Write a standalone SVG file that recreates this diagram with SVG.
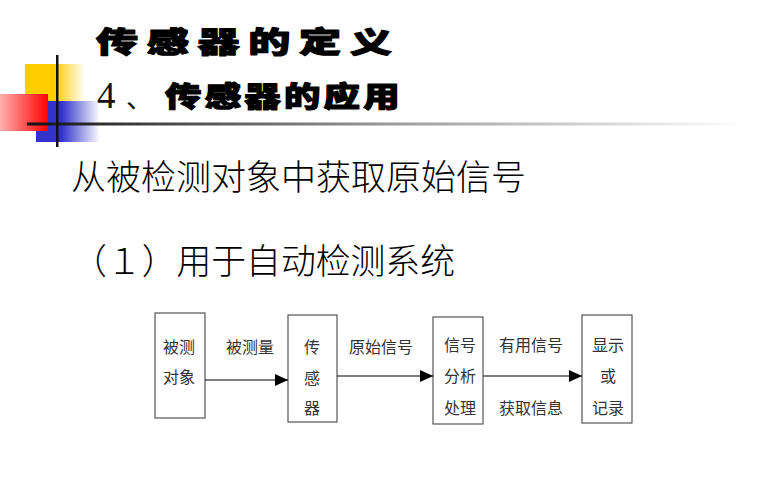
<svg xmlns="http://www.w3.org/2000/svg" width="771" height="486" viewBox="0 0 771 486">
<defs>
<linearGradient id="gY" x1="0" y1="0" x2="1" y2="0"><stop offset="0" stop-color="#FFCC00"/><stop offset="0.5" stop-color="#FFCC00"/><stop offset="1" stop-color="#FFFFFF"/></linearGradient>
<linearGradient id="gB" x1="0" y1="0" x2="1" y2="0"><stop offset="0" stop-color="#3333CC"/><stop offset="0.4" stop-color="#3333CC"/><stop offset="1" stop-color="#FFFFFF"/></linearGradient>
<linearGradient id="gR" x1="0" y1="0" x2="1" y2="0"><stop offset="0" stop-color="#FFB0B0"/><stop offset="1" stop-color="#FF0000"/></linearGradient>
<linearGradient id="gL" gradientUnits="userSpaceOnUse" x1="27" y1="0" x2="745" y2="0"><stop offset="0" stop-color="#111"/><stop offset="0.12" stop-color="#333"/><stop offset="0.5" stop-color="#999"/><stop offset="1" stop-color="#FFFFFF"/></linearGradient>
<marker id="ah" markerUnits="userSpaceOnUse" markerWidth="14" markerHeight="12" refX="13" refY="6" orient="auto"><path d="M0,0 L13,6 L0,12 Z" fill="#000"/></marker>
</defs>
<style>
.ttl{font-family:"Noto Sans CJK SC",sans-serif;font-weight:900;fill:#000;stroke:#000;stroke-width:1.2;stroke-linejoin:round}
.main{font-family:"Noto Sans CJK SC",sans-serif;font-size:35px;fill:#000;font-weight:300}
.lbl{font-family:"Noto Sans CJK SC",sans-serif;font-size:16px;fill:#333;text-anchor:middle}
.box{fill:#fff;stroke:#555;stroke-width:1.2}
.con{stroke:#000;stroke-width:1.2;fill:none;marker-end:url(#ah)}
</style>
<g id="decor">
<rect x="25" y="64" width="60" height="60" fill="url(#gY)"/>
<rect x="36" y="101" width="64" height="41" fill="url(#gB)"/>
<rect x="0" y="94" width="48" height="37" fill="url(#gR)"/>
<rect x="27" y="122.5" width="718" height="3" fill="url(#gL)"/>
<rect x="56" y="55" width="2.5" height="92" fill="#111"/>
</g>
<g id="titles">
<text class="ttl" font-size="29" letter-spacing="6" transform="translate(96,53) scale(1.45,1)">传感器的定义</text>
<text x="97" y="108" font-family="Liberation Serif,serif" font-size="37" fill="#111">4</text>
<text x="126" y="108" font-family="Noto Sans CJK SC,sans-serif" font-size="27" fill="#111">、</text>
<text class="ttl" font-size="28" letter-spacing="2.5" transform="translate(165,107) scale(1.3,1)">传感器的应用</text>
</g>
<g id="body">
<text class="main" x="71" y="190">从被检测对象中获取原始信号</text>
<text class="main" x="72" y="274" textLength="383" lengthAdjust="spacingAndGlyphs">（１）用于自动检测系统</text>
</g>
<g id="node-object">
<rect class="box" x="155" y="313" width="50" height="105"/>
<text class="lbl" x="179" y="353">被测</text>
<text class="lbl" x="179" y="383">对象</text>
</g>
<g id="node-sensor">
<rect class="box" x="288" y="315" width="49" height="107"/>
<text class="lbl" x="312" y="353">传</text>
<text class="lbl" x="312" y="384">感</text>
<text class="lbl" x="312" y="414">器</text>
</g>
<g id="node-process">
<rect class="box" x="433" y="317" width="50" height="107"/>
<text class="lbl" x="460" y="351">信号</text>
<text class="lbl" x="460" y="382">分析</text>
<text class="lbl" x="460" y="414">处理</text>
</g>
<g id="node-display">
<rect class="box" x="582" y="315" width="50" height="108"/>
<text class="lbl" x="608" y="351">显示</text>
<text class="lbl" x="608" y="382">或</text>
<text class="lbl" x="608" y="414">记录</text>
</g>
<g id="connectors">
<line class="con" x1="205" y1="380" x2="288" y2="380"/>
<line class="con" x1="337" y1="376" x2="433" y2="376"/>
<line class="con" x1="483" y1="376" x2="582" y2="376"/>
<text class="lbl" x="250" y="353">被测量</text>
<text class="lbl" x="381" y="353">原始信号</text>
<text class="lbl" x="531" y="351">有用信号</text>
<text class="lbl" x="531" y="414">获取信息</text>
</g>
</svg>
